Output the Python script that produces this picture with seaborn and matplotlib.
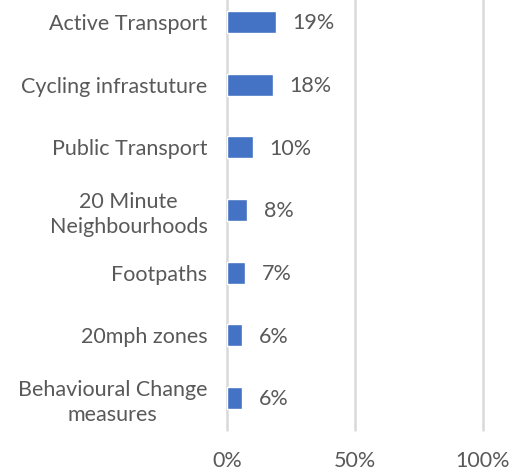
import pandas as pd
import seaborn as sns
import matplotlib.pyplot as plt
from matplotlib.ticker import FuncFormatter, MultipleLocator

categories = [
    "Active Transport",
    "Cycling infrastuture",
    "Public Transport",
    "20 Minute\nNeighbourhoods",
    "Footpaths",
    "20mph zones",
    "Behavioural Change\nmeasures",
]
shares = [19, 18, 10, 8, 7, 6, 6]

sns.set_theme(style="white")
plt.rcParams["font.family"] = ["Lato", "DejaVu Sans"]

text_color = "#595959"
bar_color = "#4472C4"
grid_color = "#D9D9D9"
fsize = 15.5

df = pd.DataFrame({"category": categories, "share": shares})

fig = plt.figure(figsize=(5.18, 4.75), dpi=100)
ax = fig.add_axes([227 / 518, 45 / 475, 256 / 518, 430 / 475])

sns.barplot(data=df, x="share", y="category", color=bar_color,
            width=0.35, saturation=1, ax=ax)

ax.set_xlim(0, 100)
ax.set_ylim(6.51, -0.35)
ax.xaxis.set_major_locator(MultipleLocator(50))
ax.xaxis.set_major_formatter(FuncFormatter(lambda v, _: f"{v:.0f}%"))
ax.grid(axis="x", color=grid_color, linewidth=1.8)
ax.set_axisbelow(True)
for line in ax.get_xgridlines():
    line.set_clip_on(False)
for s in ax.spines.values():
    s.set_visible(False)

ax.set_xlabel("")
ax.set_ylabel("")
ax.tick_params(axis="x", length=0, pad=15, labelsize=fsize, labelcolor=text_color)
ax.tick_params(axis="y", length=0, pad=14, labelsize=fsize, labelcolor=text_color)
for lbl in ax.get_yticklabels():
    lbl.set_multialignment("center")
    lbl.set_linespacing(1.3)

for i, v in enumerate(shares):
    ax.annotate(f"{v}%", (v, i), xytext=(12, -1), textcoords="offset points",
                va="center", ha="left", fontsize=fsize, color=text_color)

fig.savefig("out.png", dpi=100)
